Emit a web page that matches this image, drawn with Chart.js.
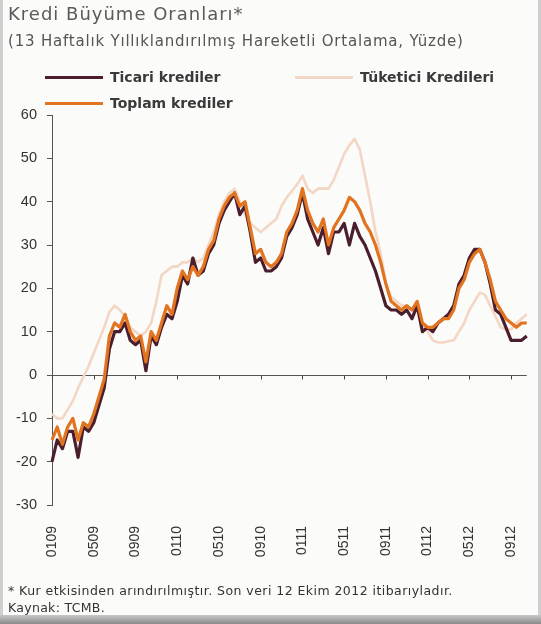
<!DOCTYPE html>
<html>
<head>
<meta charset="utf-8">
<script src="https://cdn.jsdelivr.net/npm/chart.js@4.4.1/dist/chart.umd.min.js"></script>
<style>
  html, body { margin:0; padding:0; }
  body { width:541px; height:624px; position:relative; overflow:hidden; background:#fbfbf9; font-family:"DejaVu Sans", sans-serif; color:#333; }
  #frameL { position:absolute; left:0; top:0; width:3px; height:624px; background:#cfcfcf; }
  #frameR { position:absolute; right:0; top:0; width:3px; height:624px; background:#cfcfcf; }
  #frameB { position:absolute; left:0; bottom:0; width:541px; height:9px; background:linear-gradient(#c8c8c8,#8a8a8a); }
  canvas { position:absolute; left:0; top:0; }
  .t { position:absolute; white-space:nowrap; }
  #title { left:8px; top:3px; font-size:18px; color:#5a5a5a; letter-spacing:1px; }
  #sub { left:8px; top:32px; font-size:15px; color:#555; letter-spacing:0.8px; }
  .lg { position:absolute; height:3px; width:58px; }
  .lt { position:absolute; font-size:14px; font-weight:bold; color:#3a3a3a; white-space:nowrap; }
  #foot1 { left:8px; top:583px; font-size:12.5px; color:#333; letter-spacing:0.45px; }
  #foot2 { left:8px; top:600px; font-size:12.5px; color:#333; letter-spacing:0.3px; }
</style>
</head>
<body>
<canvas id="c" width="541" height="624"></canvas>
<div id="frameL"></div><div id="frameR"></div><div id="frameB"></div>
<div class="t" id="title">Kredi Büyüme Oranları*</div>
<div class="t" id="sub">(13 Haftalık Yıllıklandırılmış Hareketli Ortalama, Yüzde)</div>
<div class="lg" style="left:45px; top:76px; background:#4b1e2e;"></div>
<div class="lt" style="left:110px; top:69px;">Ticari krediler</div>
<div class="lg" style="left:295px; top:76px; background:#f3d6c3;"></div>
<div class="lt" style="left:360px; top:69px;">Tüketici Kredileri</div>
<div class="lg" style="left:45px; top:102px; background:#e2731f;"></div>
<div class="lt" style="left:110px; top:95px;">Toplam krediler</div>
<div class="t" id="foot1">* Kur etkisinden arındırılmıştır. Son veri 12 Ekim 2012 itibarıyladır.</div>
<div class="t" id="foot2">Kaynak: TCMB.</div>
<script>
// Half-monthly observations, Jan 2009 – Oct 2012 (percent)
const tickLabels = ['0109','0509','0909','0110','0510','0910','0111','0511','0911','0112','0512','0912'];

const toplam = [
  -15,-12,-16,-12,-10,-15,-11,-12,-9,-5,
  -1,9,12,11,14,10,8,9,3,10,
  8,12,16,14,20,24,22,25,23,25,
  29,31,36,39,41,42,39,40,34,28,
  29,26,25,26,28,33,35,38,43,38,
  35,33,36,30,34,36,38,41,40,38,
  35,33,30,26,21,17,16,15,16,15,
  17,12,11,11,12,13,13,15,20,22,
  26,28,29,26,22,17,15,13,12,11,
  12,12
];
const ticari = [
  -20,-15,-17,-13,-13,-19,-12,-13,-11,-7,
  -3,6,10,10,12,8,7,8,1,9,
  7,11,14,13,17,23,21,27,23,24,
  28,30,35,38,40,42,37,39,33,26,
  27,24,24,25,27,32,34,37,42,36,
  33,30,34,28,33,33,35,30,35,32,
  30,27,24,20,16,15,15,14,15,13,
  16,10,11,10,12,13,14,16,21,23,
  27,29,29,26,21,15,14,11,8,8,
  8,9
];
const tuketici = [
  -9,-10,-10,-8,-6,-3,-0.5,2,5,8,
  11,14.5,16,15,13.5,11,10,9,10,12,
  17,23,24,25,25,26,26,27,26,27,
  30,33,37,40,42,43,40,37,35,34,
  33,34,35,36,39,41,42.5,44,46,43,
  42,43,43,43,45,48,51,53,54.5,52,
  46,40,33,28,21,18,17,16,16,15,
  15,12,10,8,7.5,7.5,7.8,8,10,12,
  15,17,19,18.5,16,13.5,11,10.5,10.5,12,
  13,14
];

// category labels: one per half-month period (MMYY)
const periods = toplam.map((_, i) => {
  const m = Math.floor(i / 2);
  const mm = String(m % 12 + 1).padStart(2, '0');
  const yy = String(9 + Math.floor(m / 12)).padStart(2, '0');
  return mm + yy;
});
const LABEL_EVERY = 8; // one tick label every 4 months

// small tick marks under the zero line at each labelled category (uses the chart's scales)
const zeroTicks = {
  id: 'zeroTicks',
  beforeDatasetsDraw(chart) {
    const xs = chart.scales.x, ys = chart.scales.y, ctx = chart.ctx;
    const y0 = Math.round(ys.getPixelForValue(0)) + 0.5;
    ctx.save();
    ctx.strokeStyle = '#444';
    ctx.lineWidth = 1;
    for (let i = 0; i < periods.length; i += LABEL_EVERY) {
      const px = Math.round(xs.getPixelForValue(i)) + 0.5;
      ctx.beginPath();
      ctx.moveTo(px, y0);
      ctx.lineTo(px, y0 + 4);
      ctx.stroke();
    }
    ctx.restore();
  }
};

const tickFont = { family: '"Liberation Sans", Arial, sans-serif', size: 14.5 };

new Chart(document.getElementById('c'), {
  type: 'line',
  data: {
    labels: periods,
    datasets: [
      { label: 'Toplam krediler', data: toplam, borderColor: '#e2731f', borderWidth: 3.2, order: 1 },
      { label: 'Ticari krediler', data: ticari, borderColor: '#4b1e2e', borderWidth: 3.2, order: 2 },
      { label: 'Tüketici Kredileri', data: tuketici, borderColor: '#f3d6c3', borderWidth: 2.6, order: 3 }
    ]
  },
  plugins: [zeroTicks],
  options: {
    responsive: false,
    animation: false,
    devicePixelRatio: 1,
    layout: { padding: { left: 8, top: 115, right: 3, bottom: 64 } },
    elements: { point: { radius: 0 }, line: { tension: 0, borderJoinStyle: 'round', fill: false } },
    plugins: { legend: { display: false }, tooltip: { enabled: false }, title: { display: false } },
    scales: {
      x: {
        type: 'category',
        position: 'bottom',
        offset: false,
        grid: { display: false },
        border: { display: false },
        ticks: {
          autoSkip: false, minRotation: 90, maxRotation: 90, padding: 13,
          color: '#333', font: { family: '"Liberation Sans", Arial, sans-serif', size: 14 },
          callback: function (v, i) { return i % LABEL_EVERY === 0 ? tickLabels[i / LABEL_EVERY] : null; }
        },
        afterFit: s => { s.height = 55; }
      },
      y: {
        min: -30, max: 60,
        ticks: { stepSize: 10, padding: 10, color: '#333', font: tickFont },
        border: { display: true, color: '#555', width: 1 },
        grid: {
          drawOnChartArea: true, drawTicks: true, tickLength: 5,
          color: ctx => (ctx.tick && ctx.tick.value === 0 ? '#555' : 'rgba(0,0,0,0)'),
          tickColor: '#555'
        },
        afterFit: s => { s.width = 44; }
      }
    }
  }
});
</script>
</body>
</html>
